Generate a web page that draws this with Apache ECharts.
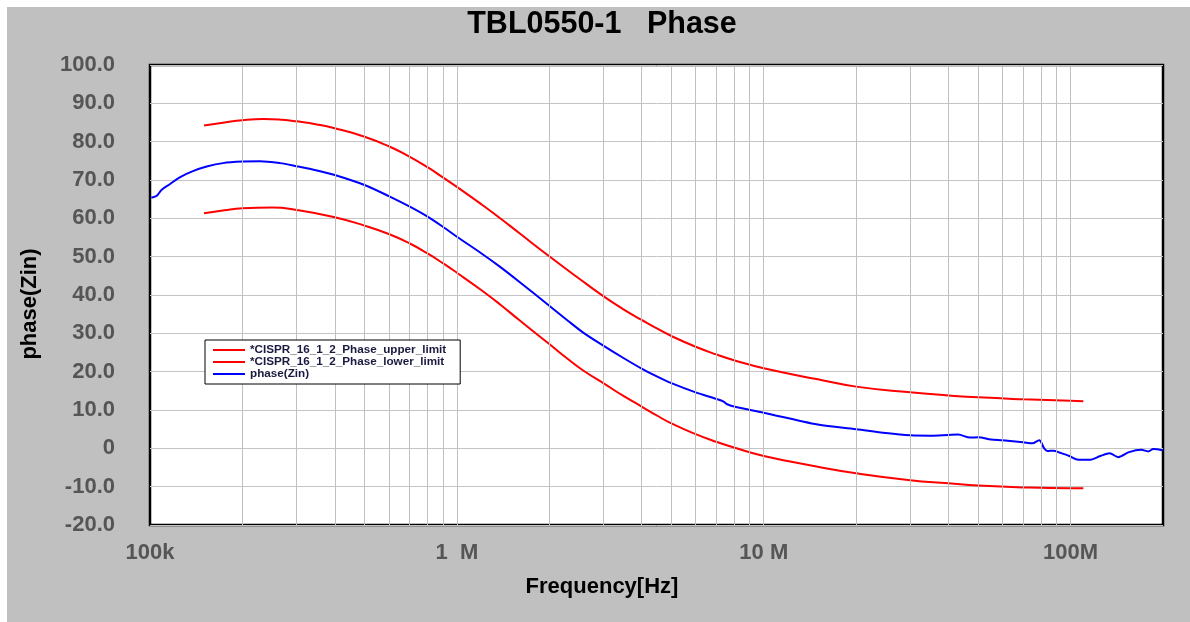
<!DOCTYPE html>
<html>
<head>
<meta charset="utf-8">
<script src="https://cdn.jsdelivr.net/npm/echarts@6/dist/echarts.min.js"></script>
<style>
html,body{margin:0;padding:0;background:#fff;}
#c{width:1190px;height:622px;}
</style>
</head>
<body>
<div id="c"></div>
<script>
// ---- data (frequency in Hz, phase in degrees) ----
const upperFreq = [150e3,175e3,200e3,234e3,270e3,300e3,350e3,400e3,500e3,600e3,700e3,800e3,900e3,1e6,1.2e6,1.38e6,1.6e6,2e6,2.5e6,3e6,3.5e6,4e6,4.5e6,5e6,6e6,7e6,8e6,10e6,15e6,20e6,30e6,40e6,50e6,70e6,100e6,110e6];
const upperVals = [84.2,85.0,85.6,85.9,85.7,85.3,84.5,83.5,81.3,78.8,76.1,73.4,70.7,68.2,63.7,60.1,56.1,50.1,44.3,39.7,36.2,33.5,31.2,29.3,26.5,24.5,23.0,20.9,18.0,16.1,14.6,13.8,13.3,12.8,12.4,12.3];

const lowerFreq = [150e3,175e3,200e3,250e3,300e3,400e3,500e3,600e3,700e3,800e3,900e3,1e6,1.2e6,1.38e6,1.6e6,2e6,2.3e6,2.58e6,3e6,3.5e6,4e6,4.5e6,5e6,6e6,7e6,8e6,10e6,15e6,20e6,30e6,40e6,50e6,70e6,100e6,110e6];
const lowerVals = [61.3,62.1,62.6,62.8,62.2,60.3,58.1,55.9,53.5,50.9,48.3,45.8,41.3,37.6,33.4,27.2,23.3,20.3,17.0,13.6,10.9,8.5,6.5,3.7,1.7,0.2,-2.0,-4.8,-6.5,-8.3,-9.1,-9.7,-10.2,-10.4,-10.4];

const zinFreq = [101e3,102e3,105e3,109e3,116e3,125e3,138e3,153e3,173e3,201e3,228e3,265e3,300e3,350e3,400e3,500e3,600e3,700e3,800e3,900e3,1e6,1.2e6,1.38e6,1.6e6,2e6,2.3e6,2.58e6,3e6,3.5e6,4e6,4.5e6,5e6,6e6,7e6,7.4e6,7.6e6,8e6,10e6,15e6,20e6,25e6,30e6,35e6,40e6,43e6,47e6,50e6,55e6,60e6,70e6,75e6,79e6,82e6,84e6,88e6,92e6,99e6,106e6,115e6,125e6,134e6,143e6,155e6,170e6,179e6,186e6,200e6];
const zinVals = [65.4,65.5,65.8,67.4,68.9,70.7,72.3,73.5,74.4,74.8,74.9,74.4,73.6,72.5,71.3,68.7,65.8,63.1,60.5,57.8,55.2,50.9,47.4,43.4,37.2,33.3,30.2,26.8,23.5,20.8,18.7,17.0,14.6,12.9,12.2,11.5,10.9,9.3,6.2,5.0,4.0,3.4,3.3,3.5,3.6,2.8,2.9,2.3,2.1,1.6,1.3,2.1,0.0,-0.7,-0.6,-1.1,-2.0,-3.0,-3.0,-2.0,-1.3,-2.3,-1.0,-0.4,-0.8,-0.2,-0.5];

const seriesNames = ['*CISPR_16_1_2_Phase_upper_limit','*CISPR_16_1_2_Phase_lower_limit','phase(Zin)'];
const decadeLabels = {5:'100k', 6:'1  M', 7:'10 M', 8:'100M'};
const minorGridFreqs = [];
[1e5,1e6,1e7,1e8].forEach(d => { for (let k = 1; k <= 9; k++) { const f = d*k; if (f > 1e5 && f < 2e8) minorGridFreqs.push(f); } });

const zip = (a,b) => a.map((f,i) => [f,b[i]]);

const chart = echarts.init(document.getElementById('c'), null, {renderer:'canvas'});
const FONT = 'Liberation Sans, Arial, sans-serif';
chart.setOption({
  backgroundColor:'#ffffff',
  animation:false,
  graphic:[
    {type:'rect', z:-10, silent:true, shape:{x:7,y:7,width:1183,height:615}, style:{fill:'#c0c0c0'}},
    {type:'text', z:10, x:602, y:25, style:{text:'TBL0550-1   Phase', font:'bold 30.5px '+FONT, fill:'#000', textAlign:'center', textVerticalAlign:'middle'}},
    {type:'text', z:10, x:602, y:587, style:{text:'Frequency[Hz]', font:'bold 22px '+FONT, fill:'#000', textAlign:'center', textVerticalAlign:'middle'}},
    {type:'text', z:10, x:30, y:304, rotation:Math.PI/2, style:{text:'phase(Zin)', font:'bold 22px '+FONT, fill:'#000', textAlign:'center', textVerticalAlign:'middle'}}
  ],
  grid:{left:150, right:27, top:65, bottom:97, show:true, backgroundColor:'#ffffff', borderColor:'#000', borderWidth:2.5},
  legend:{
    orient:'vertical', left:205, top:340, itemGap:0, itemWidth:32, itemHeight:2, icon:'rect',
    backgroundColor:'#ffffff', borderColor:'#000', borderWidth:1, borderRadius:0,
    padding:[4,14,4,8], z:20,
    textStyle:{fontFamily:FONT, fontWeight:'bold', fontSize:11.7, color:'#1a1a40', lineHeight:10.5},
    data:seriesNames
  },
  xAxis:{
    type:'log', logBase:10, min:1e5, max:2e8,
    axisLine:{show:false}, axisTick:{show:false}, splitLine:{show:false}, minorTick:{show:false}, minorSplitLine:{show:false},
    axisLabel:{
      margin:17, fontFamily:FONT, fontWeight:'bold', fontSize:22, color:'#555',
      formatter:function(v){ const l = Math.log10(v); const r = Math.round(l); return Math.abs(l-r) < 1e-6 && decadeLabels[r] ? decadeLabels[r] : ''; }
    }
  },
  yAxis:{
    type:'value', min:-20, max:100, interval:10,
    axisLine:{show:false}, axisTick:{show:false},
    splitLine:{show:true, lineStyle:{color:'#c4c4c4', width:1}},
    axisLabel:{margin:35, fontFamily:FONT, fontWeight:'bold', fontSize:22, color:'#555',
      formatter:function(v){ return v === 0 ? '0' : v.toFixed(1); }}
  },
  series:[
    {name:'gridlines', type:'line', data:[], z:1, silent:true,
      markLine:{silent:true, symbol:['none','none'], label:{show:false}, animation:false,
        lineStyle:{color:'#c0c0c0', width:1, type:'solid'},
        data:minorGridFreqs.map(f => ({xAxis:f}))}},
    {name:seriesNames[0], type:'line', data:zip(upperFreq,upperVals), showSymbol:false, smooth:0.5, z:3,
      lineStyle:{color:'#ff0000', width:2}, itemStyle:{color:'#ff0000'}},
    {name:seriesNames[1], type:'line', data:zip(lowerFreq,lowerVals), showSymbol:false, smooth:0.5, z:3,
      lineStyle:{color:'#ff0000', width:2}, itemStyle:{color:'#ff0000'}},
    {name:seriesNames[2], type:'line', data:zip(zinFreq,zinVals), showSymbol:false, smooth:0.3, z:4,
      lineStyle:{color:'#0000ff', width:2}, itemStyle:{color:'#0000ff'}}
  ]
});
</script>
</body>
</html>
